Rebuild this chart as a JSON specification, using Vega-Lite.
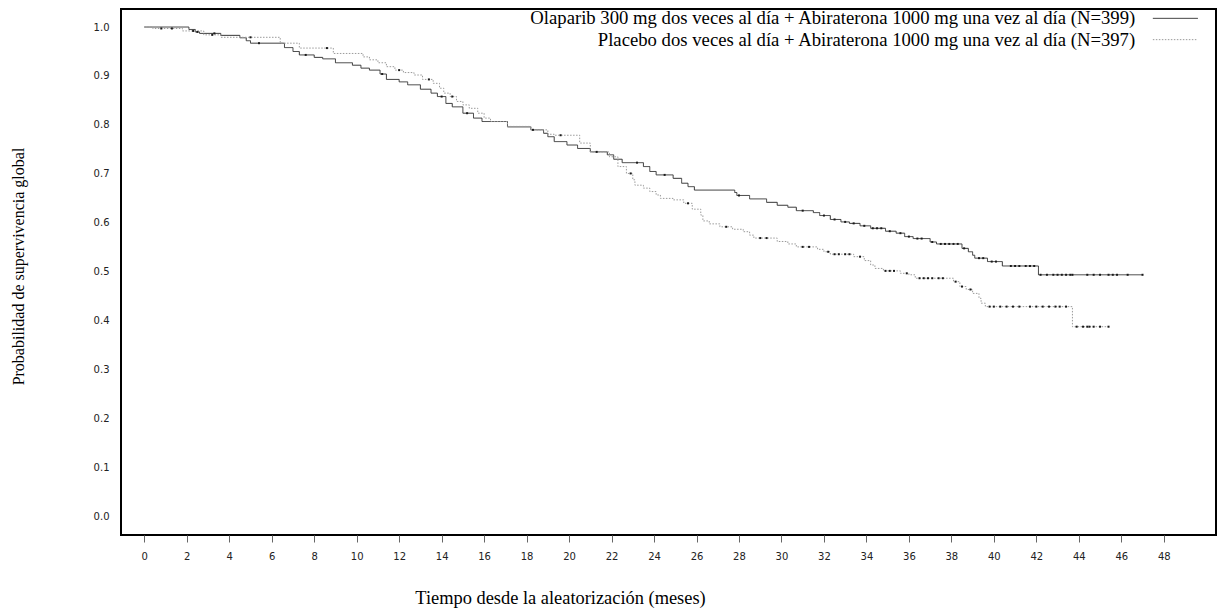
{
  "$schema": "https://vega.github.io/schema/vega-lite/v6.json",
  "width": 1095,
  "height": 526,
  "autosize": {"type": "none"},
  "padding": {"left": 121, "top": 9, "right": 1, "bottom": 79},
  "background": "white",
  "config": {
    "view": {"stroke": "black", "strokeWidth": 2},
    "axis": {"grid": false, "domain": false}
  },
  "datasets": {
    "curves": [
      {"grupo": "O", "t": 0, "s": 1.0},
      {"grupo": "O", "t": 2.1, "s": 0.995},
      {"grupo": "O", "t": 2.4, "s": 0.99},
      {"grupo": "O", "t": 2.6, "s": 0.987},
      {"grupo": "O", "t": 3.6, "s": 0.983},
      {"grupo": "O", "t": 4.5, "s": 0.978},
      {"grupo": "O", "t": 4.8, "s": 0.972},
      {"grupo": "O", "t": 5.0, "s": 0.967},
      {"grupo": "O", "t": 6.6, "s": 0.958},
      {"grupo": "O", "t": 7.0, "s": 0.95},
      {"grupo": "O", "t": 7.3, "s": 0.943},
      {"grupo": "O", "t": 8.0, "s": 0.938},
      {"grupo": "O", "t": 8.4, "s": 0.935},
      {"grupo": "O", "t": 9.0, "s": 0.927},
      {"grupo": "O", "t": 9.8, "s": 0.922},
      {"grupo": "O", "t": 10.2, "s": 0.916},
      {"grupo": "O", "t": 10.6, "s": 0.912},
      {"grupo": "O", "t": 11.1, "s": 0.904},
      {"grupo": "O", "t": 11.4, "s": 0.893},
      {"grupo": "O", "t": 12.0, "s": 0.888},
      {"grupo": "O", "t": 12.4, "s": 0.882},
      {"grupo": "O", "t": 13.0, "s": 0.873},
      {"grupo": "O", "t": 13.5, "s": 0.865},
      {"grupo": "O", "t": 13.8, "s": 0.858},
      {"grupo": "O", "t": 14.2, "s": 0.844},
      {"grupo": "O", "t": 14.5, "s": 0.837},
      {"grupo": "O", "t": 15.0, "s": 0.824},
      {"grupo": "O", "t": 15.5, "s": 0.814},
      {"grupo": "O", "t": 15.9, "s": 0.807},
      {"grupo": "O", "t": 17.1, "s": 0.796},
      {"grupo": "O", "t": 18.2, "s": 0.79},
      {"grupo": "O", "t": 18.8, "s": 0.783},
      {"grupo": "O", "t": 19.0, "s": 0.776},
      {"grupo": "O", "t": 19.3, "s": 0.766},
      {"grupo": "O", "t": 19.9, "s": 0.759},
      {"grupo": "O", "t": 20.4, "s": 0.752},
      {"grupo": "O", "t": 21.0, "s": 0.745},
      {"grupo": "O", "t": 21.8, "s": 0.739},
      {"grupo": "O", "t": 22.1, "s": 0.73},
      {"grupo": "O", "t": 22.5, "s": 0.723},
      {"grupo": "O", "t": 23.5, "s": 0.715},
      {"grupo": "O", "t": 23.8, "s": 0.705},
      {"grupo": "O", "t": 24.1, "s": 0.698},
      {"grupo": "O", "t": 24.9, "s": 0.691},
      {"grupo": "O", "t": 25.3, "s": 0.681},
      {"grupo": "O", "t": 25.6, "s": 0.674},
      {"grupo": "O", "t": 25.9, "s": 0.667},
      {"grupo": "O", "t": 27.8, "s": 0.662},
      {"grupo": "O", "t": 27.9, "s": 0.656},
      {"grupo": "O", "t": 28.5, "s": 0.649},
      {"grupo": "O", "t": 29.3, "s": 0.642},
      {"grupo": "O", "t": 29.8, "s": 0.636},
      {"grupo": "O", "t": 30.3, "s": 0.632},
      {"grupo": "O", "t": 30.7, "s": 0.625},
      {"grupo": "O", "t": 31.5, "s": 0.621},
      {"grupo": "O", "t": 31.8, "s": 0.615},
      {"grupo": "O", "t": 32.3, "s": 0.607},
      {"grupo": "O", "t": 32.8, "s": 0.602},
      {"grupo": "O", "t": 33.2, "s": 0.599},
      {"grupo": "O", "t": 33.7, "s": 0.594},
      {"grupo": "O", "t": 34.2, "s": 0.589},
      {"grupo": "O", "t": 34.9, "s": 0.583},
      {"grupo": "O", "t": 35.4, "s": 0.579},
      {"grupo": "O", "t": 35.8, "s": 0.572},
      {"grupo": "O", "t": 36.2, "s": 0.568},
      {"grupo": "O", "t": 37.0, "s": 0.561},
      {"grupo": "O", "t": 37.3, "s": 0.557},
      {"grupo": "O", "t": 38.5, "s": 0.548},
      {"grupo": "O", "t": 38.8, "s": 0.541},
      {"grupo": "O", "t": 39.0, "s": 0.534},
      {"grupo": "O", "t": 39.1, "s": 0.528},
      {"grupo": "O", "t": 39.7, "s": 0.521},
      {"grupo": "O", "t": 40.4, "s": 0.512},
      {"grupo": "O", "t": 42.1, "s": 0.494},
      {"grupo": "O", "t": 47.0, "s": 0.494},
      {"grupo": "P", "t": 0, "s": 1.0},
      {"grupo": "P", "t": 0.4, "s": 0.997},
      {"grupo": "P", "t": 1.8, "s": 0.992},
      {"grupo": "P", "t": 2.8, "s": 0.984},
      {"grupo": "P", "t": 3.6, "s": 0.979},
      {"grupo": "P", "t": 6.4, "s": 0.967},
      {"grupo": "P", "t": 7.3, "s": 0.957},
      {"grupo": "P", "t": 8.9, "s": 0.946},
      {"grupo": "P", "t": 10.3, "s": 0.939},
      {"grupo": "P", "t": 10.6, "s": 0.933},
      {"grupo": "P", "t": 11.0, "s": 0.927},
      {"grupo": "P", "t": 11.4, "s": 0.919},
      {"grupo": "P", "t": 11.8, "s": 0.912},
      {"grupo": "P", "t": 12.2, "s": 0.907},
      {"grupo": "P", "t": 12.7, "s": 0.902},
      {"grupo": "P", "t": 13.1, "s": 0.893},
      {"grupo": "P", "t": 13.6, "s": 0.885},
      {"grupo": "P", "t": 13.9, "s": 0.875},
      {"grupo": "P", "t": 14.1, "s": 0.865},
      {"grupo": "P", "t": 14.4, "s": 0.858},
      {"grupo": "P", "t": 14.7, "s": 0.848},
      {"grupo": "P", "t": 15.0, "s": 0.841},
      {"grupo": "P", "t": 15.3, "s": 0.834},
      {"grupo": "P", "t": 15.7, "s": 0.824},
      {"grupo": "P", "t": 16.0, "s": 0.814},
      {"grupo": "P", "t": 16.3, "s": 0.807},
      {"grupo": "P", "t": 17.1, "s": 0.797},
      {"grupo": "P", "t": 18.2, "s": 0.79},
      {"grupo": "P", "t": 19.0, "s": 0.781},
      {"grupo": "P", "t": 19.3, "s": 0.779},
      {"grupo": "P", "t": 20.5, "s": 0.763},
      {"grupo": "P", "t": 21.0, "s": 0.745},
      {"grupo": "P", "t": 21.9, "s": 0.735},
      {"grupo": "P", "t": 22.3, "s": 0.715},
      {"grupo": "P", "t": 22.7, "s": 0.701},
      {"grupo": "P", "t": 23.0, "s": 0.688},
      {"grupo": "P", "t": 23.1, "s": 0.677},
      {"grupo": "P", "t": 23.5, "s": 0.671},
      {"grupo": "P", "t": 23.8, "s": 0.664},
      {"grupo": "P", "t": 24.1, "s": 0.657},
      {"grupo": "P", "t": 24.3, "s": 0.65},
      {"grupo": "P", "t": 24.9, "s": 0.647},
      {"grupo": "P", "t": 25.4, "s": 0.64},
      {"grupo": "P", "t": 25.8, "s": 0.628},
      {"grupo": "P", "t": 26.2, "s": 0.616},
      {"grupo": "P", "t": 26.3, "s": 0.604},
      {"grupo": "P", "t": 26.6, "s": 0.598},
      {"grupo": "P", "t": 27.1, "s": 0.592},
      {"grupo": "P", "t": 27.7, "s": 0.587},
      {"grupo": "P", "t": 28.2, "s": 0.582},
      {"grupo": "P", "t": 28.5, "s": 0.575},
      {"grupo": "P", "t": 28.7, "s": 0.569},
      {"grupo": "P", "t": 29.8, "s": 0.562},
      {"grupo": "P", "t": 30.3, "s": 0.557},
      {"grupo": "P", "t": 30.7, "s": 0.551},
      {"grupo": "P", "t": 31.7, "s": 0.546},
      {"grupo": "P", "t": 32.0, "s": 0.541},
      {"grupo": "P", "t": 32.3, "s": 0.536},
      {"grupo": "P", "t": 33.4, "s": 0.531},
      {"grupo": "P", "t": 33.9, "s": 0.523},
      {"grupo": "P", "t": 34.2, "s": 0.514},
      {"grupo": "P", "t": 34.4, "s": 0.507},
      {"grupo": "P", "t": 34.8, "s": 0.502},
      {"grupo": "P", "t": 35.6, "s": 0.497},
      {"grupo": "P", "t": 36.0, "s": 0.494},
      {"grupo": "P", "t": 36.3, "s": 0.487},
      {"grupo": "P", "t": 38.1, "s": 0.48},
      {"grupo": "P", "t": 38.4, "s": 0.47},
      {"grupo": "P", "t": 38.7, "s": 0.464},
      {"grupo": "P", "t": 39.0, "s": 0.456},
      {"grupo": "P", "t": 39.3, "s": 0.446},
      {"grupo": "P", "t": 39.4, "s": 0.436},
      {"grupo": "P", "t": 39.6, "s": 0.429},
      {"grupo": "P", "t": 43.7, "s": 0.388},
      {"grupo": "P", "t": 45.4, "s": 0.388}
    ],
    "censor": [
      {"grupo": "O", "t": 2.5, "s": 0.99},
      {"grupo": "O", "t": 3.3, "s": 0.987},
      {"grupo": "O", "t": 5.4, "s": 0.967},
      {"grupo": "O", "t": 7.6, "s": 0.943},
      {"grupo": "O", "t": 11.2, "s": 0.904},
      {"grupo": "O", "t": 14.0, "s": 0.858},
      {"grupo": "O", "t": 15.2, "s": 0.824},
      {"grupo": "O", "t": 18.3, "s": 0.79},
      {"grupo": "O", "t": 21.3, "s": 0.745},
      {"grupo": "O", "t": 23.2, "s": 0.723},
      {"grupo": "O", "t": 24.5, "s": 0.698},
      {"grupo": "O", "t": 28.0, "s": 0.656},
      {"grupo": "O", "t": 31.0, "s": 0.625},
      {"grupo": "O", "t": 32.0, "s": 0.615},
      {"grupo": "O", "t": 32.5, "s": 0.607},
      {"grupo": "O", "t": 33.0, "s": 0.602},
      {"grupo": "O", "t": 33.4, "s": 0.599},
      {"grupo": "O", "t": 33.9, "s": 0.594},
      {"grupo": "O", "t": 34.3, "s": 0.589},
      {"grupo": "O", "t": 34.5, "s": 0.589},
      {"grupo": "O", "t": 34.7, "s": 0.589},
      {"grupo": "O", "t": 35.1, "s": 0.583},
      {"grupo": "O", "t": 35.6, "s": 0.579},
      {"grupo": "O", "t": 36.0, "s": 0.572},
      {"grupo": "O", "t": 36.4, "s": 0.568},
      {"grupo": "O", "t": 36.6, "s": 0.568},
      {"grupo": "O", "t": 37.1, "s": 0.561},
      {"grupo": "O", "t": 37.5, "s": 0.557},
      {"grupo": "O", "t": 37.7, "s": 0.557},
      {"grupo": "O", "t": 37.9, "s": 0.557},
      {"grupo": "O", "t": 38.1, "s": 0.557},
      {"grupo": "O", "t": 38.3, "s": 0.557},
      {"grupo": "O", "t": 38.6, "s": 0.548},
      {"grupo": "O", "t": 39.3, "s": 0.528},
      {"grupo": "O", "t": 39.5, "s": 0.528},
      {"grupo": "O", "t": 39.9, "s": 0.521},
      {"grupo": "O", "t": 40.1, "s": 0.521},
      {"grupo": "O", "t": 40.8, "s": 0.512},
      {"grupo": "O", "t": 41.0, "s": 0.512},
      {"grupo": "O", "t": 41.2, "s": 0.512},
      {"grupo": "O", "t": 41.5, "s": 0.512},
      {"grupo": "O", "t": 41.7, "s": 0.512},
      {"grupo": "O", "t": 41.9, "s": 0.512},
      {"grupo": "O", "t": 42.2, "s": 0.494},
      {"grupo": "O", "t": 42.5, "s": 0.494},
      {"grupo": "O", "t": 42.8, "s": 0.494},
      {"grupo": "O", "t": 43.0, "s": 0.494},
      {"grupo": "O", "t": 43.2, "s": 0.494},
      {"grupo": "O", "t": 43.4, "s": 0.494},
      {"grupo": "O", "t": 43.6, "s": 0.494},
      {"grupo": "O", "t": 43.7, "s": 0.494},
      {"grupo": "O", "t": 44.4, "s": 0.494},
      {"grupo": "O", "t": 44.7, "s": 0.494},
      {"grupo": "O", "t": 45.0, "s": 0.494},
      {"grupo": "O", "t": 45.4, "s": 0.494},
      {"grupo": "O", "t": 45.6, "s": 0.494},
      {"grupo": "O", "t": 45.8, "s": 0.494},
      {"grupo": "O", "t": 46.3, "s": 0.494},
      {"grupo": "O", "t": 47.0, "s": 0.494},
      {"grupo": "P", "t": 0.8, "s": 0.997},
      {"grupo": "P", "t": 1.3, "s": 0.997},
      {"grupo": "P", "t": 2.3, "s": 0.992},
      {"grupo": "P", "t": 3.2, "s": 0.984},
      {"grupo": "P", "t": 5.0, "s": 0.979},
      {"grupo": "P", "t": 8.6, "s": 0.957},
      {"grupo": "P", "t": 12.0, "s": 0.912},
      {"grupo": "P", "t": 13.4, "s": 0.893},
      {"grupo": "P", "t": 14.5, "s": 0.858},
      {"grupo": "P", "t": 19.6, "s": 0.779},
      {"grupo": "P", "t": 22.9, "s": 0.701},
      {"grupo": "P", "t": 25.6, "s": 0.64},
      {"grupo": "P", "t": 27.4, "s": 0.592},
      {"grupo": "P", "t": 29.0, "s": 0.569},
      {"grupo": "P", "t": 29.3, "s": 0.569},
      {"grupo": "P", "t": 31.0, "s": 0.551},
      {"grupo": "P", "t": 31.3, "s": 0.551},
      {"grupo": "P", "t": 32.2, "s": 0.541},
      {"grupo": "P", "t": 32.5, "s": 0.536},
      {"grupo": "P", "t": 32.7, "s": 0.536},
      {"grupo": "P", "t": 33.0, "s": 0.536},
      {"grupo": "P", "t": 33.2, "s": 0.536},
      {"grupo": "P", "t": 33.7, "s": 0.531},
      {"grupo": "P", "t": 34.9, "s": 0.502},
      {"grupo": "P", "t": 35.1, "s": 0.502},
      {"grupo": "P", "t": 35.3, "s": 0.502},
      {"grupo": "P", "t": 35.9, "s": 0.497},
      {"grupo": "P", "t": 36.5, "s": 0.487},
      {"grupo": "P", "t": 36.7, "s": 0.487},
      {"grupo": "P", "t": 36.9, "s": 0.487},
      {"grupo": "P", "t": 37.1, "s": 0.487},
      {"grupo": "P", "t": 37.4, "s": 0.487},
      {"grupo": "P", "t": 37.6, "s": 0.487},
      {"grupo": "P", "t": 38.2, "s": 0.48},
      {"grupo": "P", "t": 38.5, "s": 0.47},
      {"grupo": "P", "t": 38.9, "s": 0.464},
      {"grupo": "P", "t": 39.8, "s": 0.429},
      {"grupo": "P", "t": 40.0, "s": 0.429},
      {"grupo": "P", "t": 40.3, "s": 0.429},
      {"grupo": "P", "t": 40.6, "s": 0.429},
      {"grupo": "P", "t": 40.9, "s": 0.429},
      {"grupo": "P", "t": 41.2, "s": 0.429},
      {"grupo": "P", "t": 41.7, "s": 0.429},
      {"grupo": "P", "t": 42.0, "s": 0.429},
      {"grupo": "P", "t": 42.3, "s": 0.429},
      {"grupo": "P", "t": 42.6, "s": 0.429},
      {"grupo": "P", "t": 42.9, "s": 0.429},
      {"grupo": "P", "t": 43.1, "s": 0.429},
      {"grupo": "P", "t": 43.4, "s": 0.429},
      {"grupo": "P", "t": 43.9, "s": 0.388},
      {"grupo": "P", "t": 44.2, "s": 0.388},
      {"grupo": "P", "t": 44.4, "s": 0.388},
      {"grupo": "P", "t": 44.5, "s": 0.388},
      {"grupo": "P", "t": 44.7, "s": 0.388},
      {"grupo": "P", "t": 45.0, "s": 0.388},
      {"grupo": "P", "t": 45.4, "s": 0.388}
    ]
  },
  "layer": [
    {
      "data": {"name": "curves"},
      "transform": [
        {"lookup": "grupo", "from": {"data": {"values": [
          {"grupo": "O", "nombre": "Olaparib 300 mg dos veces al día + Abiraterona 1000 mg una vez al día (N=399)"},
          {"grupo": "P", "nombre": "Placebo dos veces al día + Abiraterona 1000 mg una vez al día (N=397)"}
        ]}, "key": "grupo", "fields": ["nombre"]}}
      ],
      "mark": {"type": "line", "interpolate": "step-after", "strokeWidth": 1, "clip": true},
      "encoding": {
        "x": {
          "field": "t", "type": "quantitative",
          "scale": {"domain": [-1.097, 50.46], "nice": false, "zero": false},
          "axis": {
            "values": [0, 2, 4, 6, 8, 10, 12, 14, 16, 18, 20, 22, 24, 26, 28, 30, 32, 34, 36, 38, 40, 42, 44, 46, 48],
            "tickSize": 7, "tickColor": "#666", "tickWidth": 1,
            "labelFont": "DejaVu Sans", "labelFontSize": 10, "labelColor": "#222", "labelPadding": 9,
            "title": "Tiempo desde la aleatorización (meses)",
            "titleFont": "Liberation Serif", "titleFontSize": 18.4, "titleFontWeight": "normal", "titleColor": "black",
            "titleX": 439, "titleY": 68, "titleAlign": "center", "titleBaseline": "alphabetic"
          }
        },
        "y": {
          "field": "s", "type": "quantitative",
          "scale": {"domain": [-0.0374, 1.0368], "nice": false, "zero": false},
          "axis": {
            "values": [0, 0.1, 0.2, 0.3, 0.4, 0.5, 0.6, 0.7, 0.8, 0.9, 1.0],
            "format": ".1f", "ticks": false,
            "labelFont": "DejaVu Sans", "labelFontSize": 10, "labelColor": "#222", "labelPadding": 12,
            "title": "Probabilidad de supervivencia global",
            "titleFont": "Liberation Serif", "titleFontSize": 16, "titleFontWeight": "normal", "titleColor": "black",
            "titleX": -103, "titleY": 257, "titleAngle": 270, "titleAlign": "center", "titleBaseline": "middle"
          }
        },
        "color": {
          "field": "nombre", "type": "nominal",
          "scale": {"domain": ["Olaparib 300 mg dos veces al día + Abiraterona 1000 mg una vez al día (N=399)", "Placebo dos veces al día + Abiraterona 1000 mg una vez al día (N=397)"], "range": ["#333333", "#9a9a9a"]},
          "legend": {
            "title": null, "orient": "none", "legendX": 1045, "legendY": 0, "padding": 0,
            "symbolType": "M-4.5,0H4.5", "symbolSize": 100, "symbolStrokeWidth": 1,
            "labelAlign": "right", "labelOffset": -49.5, "labelFont": "Liberation Serif", "labelFontSize": 18.7,
            "labelColor": "black", "labelLimit": 0, "rowPadding": 1.3
          }
        },
        "strokeDash": {
          "field": "nombre", "type": "nominal",
          "scale": {"domain": ["Olaparib 300 mg dos veces al día + Abiraterona 1000 mg una vez al día (N=399)", "Placebo dos veces al día + Abiraterona 1000 mg una vez al día (N=397)"], "range": [[1, 0], [1.5, 1.5]]},
          "legend": {
            "title": null, "orient": "none", "legendX": 1045, "legendY": 0, "padding": 0,
            "symbolType": "M-4.5,0H4.5", "symbolSize": 100, "symbolStrokeWidth": 1,
            "labelAlign": "right", "labelOffset": -49.5, "labelFont": "Liberation Serif", "labelFontSize": 18.7,
            "labelColor": "black", "labelLimit": 0, "rowPadding": 1.3
          }
        }
      }
    },
    {
      "data": {"name": "censor"},
      "mark": {"type": "square", "size": 4, "color": "#1a1a1a", "opacity": 1, "filled": true, "clip": true},
      "encoding": {
        "x": {"field": "t", "type": "quantitative"},
        "y": {"field": "s", "type": "quantitative"}
      }
    }
  ]
}
